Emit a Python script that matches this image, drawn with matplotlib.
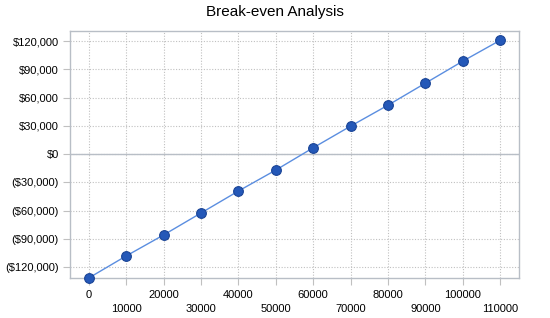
import numpy as np
import matplotlib
matplotlib.use('Agg')
import matplotlib.pyplot as plt
from matplotlib.ticker import FuncFormatter

plt.rcParams['font.family'] = ['Liberation Sans', 'DejaVu Sans']

# break-even data
units = [0, 10000, 20000, 30000, 40000, 50000, 60000, 70000, 80000, 90000, 100000, 110000]
profit = [-131700, -108300, -86000, -62650, -39300, -17000, 6700, 29700, 52000, 75400, 98800, 121000]
yticks = [-120000, -90000, -60000, -30000, 0, 30000, 60000, 90000, 120000]


def money(v, pos=None):
    if v < 0:
        return '(${:,.0f})'.format(-v)
    return '${:,.0f}'.format(v)


fig = plt.figure(figsize=(5.5, 3.18), dpi=100)
ax = fig.add_axes([70 / 550, 1 - 278 / 318, 449 / 550, 247 / 318])

x = np.arange(len(units))
ax.plot(x, profit, color='#5b8ee0', lw=1, zorder=3)
ax.plot(x, profit, 'o', ms=7, color='#2458b8', mec='#1a4496', mew=0.8, zorder=4, clip_on=False)

ax.set_xlim(-0.5, len(units) - 0.5)
ax.set_ylim(-131700, 130800)
ax.set_yticks(yticks)
ax.yaxis.set_major_formatter(FuncFormatter(money))
ax.set_xticks(x)
ax.set_xticklabels([str(u) if i % 2 == 0 else '\n' + str(u) for i, u in enumerate(units)],
                   linespacing=1.45)

ax.grid(True, color='#c0c0c0', ls=(0, (1, 1.5)), lw=0.8)
ax.axhline(0, color='#b8bec6', lw=1, zorder=2)
for s in ax.spines.values():
    s.set_color('#b8bec6')
    s.set_linewidth(1)
ax.tick_params(axis='both', colors='#c0c0c0', labelcolor='black', labelsize=8, length=5, width=0.8)
ax.tick_params(axis='x', pad=4)
ax.tick_params(axis='y', pad=3)
for t in ax.get_xticklines() + ax.get_yticklines():
    t.set_linestyle((0, (1, 1.5)))

fig.text(0.5, 1 - 12 / 318, 'Break-even Analysis', ha='center', va='center', fontsize=11)

fig.savefig('out.png', dpi=100)
